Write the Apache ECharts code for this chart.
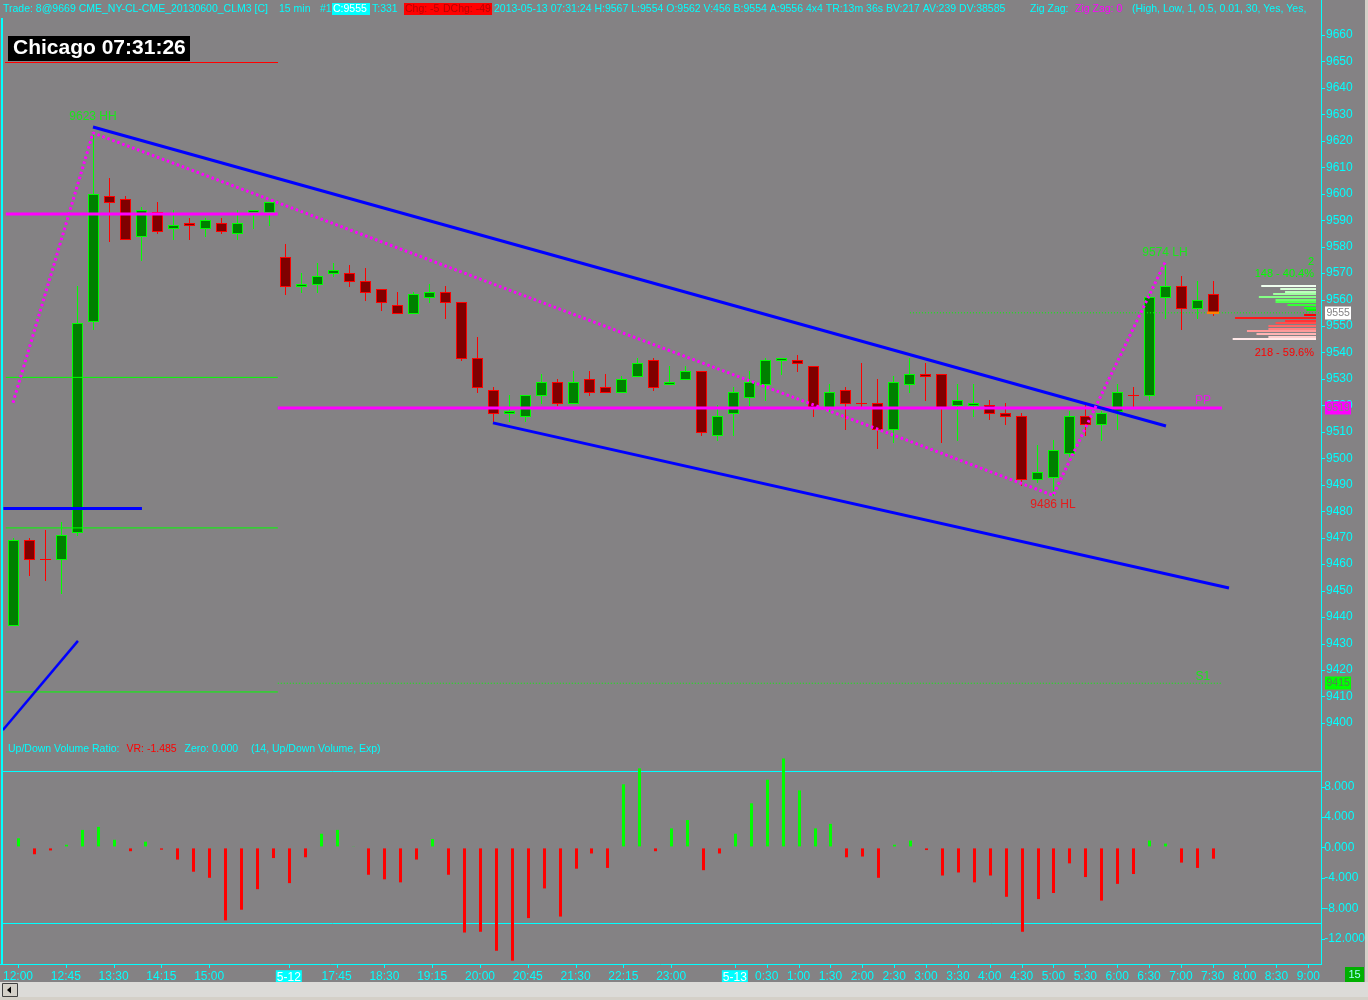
<!DOCTYPE html>
<html><head><meta charset="utf-8">
<script src="https://cdn.jsdelivr.net/npm/echarts@6/dist/echarts.min.js"></script>
<style>html,body{margin:0;padding:0;background:#848284;}#c{width:1368px;height:1000px;}</style>
</head><body><div id="c"></div>
<script>
// ---------------- DATA ----------------
// 15-minute bars, index 0 = Fri 12:00, 17 = Sun 17:00 (5-12), 45 = Mon 0:00 (5-13)
const opens  = [9437,9469,9462,9462,9472,9552,9599,9598,9584,9593,9587,9589,9587,9589,9585,9593,9593,
  9576,9565,9566,9570,9570,9567,9564,9558,9555,9561,9563,9559,9538,9526,9517,9516,9524,9529,9521,9530,9527,9525,9531,9537,9528,9530,
  9533,9509,9517,9523,9528,9537,9537,9535,9519,9526,9521,9521,9511,9528,9532,9532,9520,9520,9520,9517,9516,9492,9493,9502,9516,9513,9518,9524,9524,9561,9565,9557,9562];
const highs  = [9470,9470,9473,9476,9565,9623,9606,9599,9595,9597,9594,9591,9591,9591,9594,9594,9597,
  9581,9570,9574,9574,9573,9572,9564,9563,9563,9566,9565,9559,9546,9527,9524,9524,9532,9530,9533,9533,9532,9531,9538,9538,9535,9535,
  9533,9520,9527,9533,9538,9538,9539,9535,9528,9527,9536,9530,9531,9538,9536,9532,9528,9528,9522,9521,9517,9505,9507,9518,9520,9518,9528,9527,9562,9574,9569,9567,9567];
const lows   = [9437,9456,9454,9449,9471,9549,9582,9583,9575,9585,9583,9583,9584,9585,9583,9587,9588,
  9562,9563,9563,9569,9565,9560,9556,9555,9555,9559,9553,9537,9525,9514,9514,9514,9521,9520,9521,9524,9525,9525,9531,9526,9528,9530,
  9509,9507,9509,9520,9522,9532,9533,9516,9518,9511,9519,9504,9506,9525,9522,9506,9507,9516,9515,9513,9490,9491,9486,9501,9509,9507,9511,9519,9522,9553,9549,9553,9554];
const closes = [9469,9462,9462,9471,9551,9600,9597,9583,9594,9586,9588,9588,9590,9586,9589,9594,9597,
  9565,9566,9569,9571,9567,9563,9559,9555,9562,9563,9559,9538,9527,9517,9518,9524,9529,9521,9529,9525,9525,9530,9536,9527,9529,9533,
  9510,9516,9525,9529,9537,9538,9536,9519,9525,9521,9521,9511,9529,9532,9531,9519,9522,9521,9517,9516,9492,9495,9503,9516,9513,9517,9525,9524,9561,9565,9557,9560,9555];
// Up/Down Volume Ratio histogram
const vrValues = [1.2,-0.9,-0.4,0.35,2.3,2.7,1.0,-0.5,0.75,-0.3,-1.6,-3.2,-4.0,-9.6,-8.2,-5.5,-1.4,
  -4.7,-1.3,1.8,2.3,0.15,-3.6,-4.2,-4.6,-1.6,1.1,-3.6,-11.2,-11.1,-13.6,-14.9,-9.3,-5.4,-9.1,-2.8,-0.8,-2.7,8.3,10.4,-0.5,2.5,3.6,
  -3.0,-0.8,1.8,5.8,8.9,11.7,7.5,2.5,3.1,-1.3,-1.2,-4.0,0.35,0.9,-0.35,-3.7,-3.3,-4.6,-3.7,-6.5,-11.1,-6.8,-6.0,-2.1,-3.9,-7.0,-4.8,-3.5,0.9,0.5,-2.0,-2.7,-1.485];
const vrLevels = [10, -10];
// time axis
const tickIndex  = [0,3,6,9,12,17,20,23,26,29,32,35,38,41,45,47,49,51,53,55,57,59,61,63,65,67,69,71,73,75,77,79,81];
const tickLabels = ['12:00','12:45','13:30','14:15','15:00','5-12','17:45','18:30','19:15','20:00','20:45','21:30','22:15','23:00',
  '5-13','0:30','1:00','1:30','2:00','2:30','3:00','3:30','4:00','4:30','5:00','5:30','6:00','6:30','7:00','7:30','8:00','8:30','9:00'];
const priceTicks = [9400,9410,9420,9430,9440,9450,9460,9470,9480,9490,9500,9510,9520,9530,9540,9550,9560,9570,9580,9590,9600,9610,9620,9630,9640,9650,9660];
const vrTicks = [-12,-8,-4,0,4,8];
// zig zag pivots
const zigzagIndex = [0, 5, 65, 72];
const zigzagPrice = [9521, 9623, 9486, 9574];
const pivotIndex = [5, 72, 65];
const pivotPrice = [9623, 9574, 9486];
const pivotTags  = ['HH', 'LH', 'HL'];
// drawn trend lines [index, price]
const upperTrend = [[5, 9625.2], [72.06, 9512.2]];
const lowerTrend = [[30, 9513.4], [76, 9451.0]];
const leftTrend  = [[-0.63, 9397.3], [4.06, 9431.0]];
const blueLevel  = [[-0.6, 9481], [8.06, 9481]];
// pivot levels
const fridayMagenta = 9592.3;
const fridayGreen = [9530.6, 9473.7, 9411.7];
const ppLevel = 9519;
const s1Level = 9415;
const lastPrice = 9555;
// volume-at-price profile
const profilePrices  = [9565,9564,9563,9562,9561,9560,9559,9558,9557,9556, 9554,9553,9552,9551,9550,9549,9548,9547,9546,9545];
const profileVolumes = [23,15,13,18,24,17,17,12,5,4, 5,34,13,17,20,20,29,25,20,35];

// ---------------- CHART ----------------
const FF = '"Liberation Sans", Arial, sans-serif';
const font = (s, w) => (w || 'normal') + ' ' + s + 'px ' + FF;
const CY = '#00ffff', GR = '#00ff00', RD = '#ff0000', MG = '#ff00ff', BL = '#0000ff', BG = '#848284';
const chart = echarts.init(document.getElementById('c'), null, {renderer: 'canvas'});

function seg(pts, color, width, type, z) {
  return {type: 'line', xAxisIndex: 0, yAxisIndex: 0, data: pts, symbol: 'none', silent: true,
    z: z || 5, animation: false, lineStyle: {color: color, width: width, type: type || 'solid'}};
}

const candleData = opens.map((o, i) => [i, o, highs[i], lows[i], closes[i]]);
const series = [];

series.push({
  type: 'custom', xAxisIndex: 0, yAxisIndex: 0, z: 2, clip: true,
  data: candleData, encode: {x: 0, y: [1, 2, 3, 4]},
  renderItem: function (params, api) {
    const i = api.value(0), o = api.value(1), h = api.value(2), l = api.value(3), c = api.value(4);
    const pO = api.coord([i, o]), pC = api.coord([i, c]), pH = api.coord([i, h]), pL = api.coord([i, l]);
    const xi = Math.round(pO[0]);
    const up = c > o;
    const edge = up ? GR : RD, fill = up ? '#008000' : '#800000';
    const yH = Math.round(pH[1]), yL = Math.round(pL[1]);
    const ch = [{type: 'rect', shape: {x: xi, y: yH, width: 1, height: Math.max(yL - yH + 1, 1)}, style: {fill: edge, stroke: null}}];
    if (c === o) {
      const yy = Math.round(pO[1]);
      ch.push({type: 'rect', shape: {x: xi - 5, y: yy, width: 11, height: 1}, style: {fill: edge, stroke: null}});
    } else {
      const top = Math.round(Math.min(pO[1], pC[1])), bot = Math.round(Math.max(pO[1], pC[1]));
      ch.push({type: 'rect', shape: {x: xi - 5, y: top, width: 11, height: Math.max(bot - top + 1, 2)}, style: {fill: edge, stroke: null}});
      if (bot - top > 1) ch.push({type: 'rect', shape: {x: xi - 4, y: top + 1, width: 9, height: bot - top - 1}, style: {fill: fill, stroke: null}});
    }
    return {type: 'group', children: ch};
  }
});

// horizontal levels
series.push(seg([[-0.45, fridayMagenta], [16.55, fridayMagenta]], MG, 3, 'solid', 6));
fridayGreen.forEach(v => series.push(seg([[-0.45, v], [16.55, v]], GR, 1, 'solid', 4)));
series.push(seg([[16.55, ppLevel], [75.56, ppLevel]], MG, 3, 'solid', 6));
series.push(seg([[16.55, s1Level], [75.56, s1Level]], GR, 1, [1, 2], 4));
series.push(seg([[56.06, lastPrice], [81.75, lastPrice]], GR, 1, [1, 2], 4));
series.push(seg([[74.62, lastPrice], [75.38, lastPrice]], '#ff8000', 2.5, 'solid', 7));
// trend lines
series.push(seg(upperTrend, BL, 3, 'solid', 7));
series.push(seg(lowerTrend, BL, 3, 'solid', 7));
series.push(seg(leftTrend, BL, 2.5, 'solid', 7));
series.push(seg(blueLevel, BL, 3, 'solid', 7));
// zig zag
series.push(seg(zigzagIndex.map((x, i) => [x, zigzagPrice[i]]), MG, 3, [2.5, 2.8], 8));

// pivot labels
const pivotLabelCfg = {HH: {pos: 'top', d: 10, c: GR}, LH: {pos: 'top', d: 3.5, c: GR}, HL: {pos: 'bottom', d: 3, c: RD}};
series.push({
  type: 'scatter', xAxisIndex: 0, yAxisIndex: 0, symbolSize: 0, silent: true, z: 9,
  data: pivotIndex.map((x, i) => {
    const cfg = pivotLabelCfg[pivotTags[i]];
    return {name: pivotPrice[i] + ' ' + pivotTags[i], value: [x, pivotPrice[i]],
      label: {show: true, position: cfg.pos, distance: cfg.d, color: cfg.c, font: font(13), formatter: '{b}'}};
  })
});
// PP / S1 labels
series.push({
  type: 'scatter', xAxisIndex: 0, yAxisIndex: 0, symbolSize: 0, silent: true, z: 9,
  data: [
    {name: 'PP', value: [74.37, ppLevel], label: {show: true, position: 'top', distance: 1.5, color: MG, font: font(11), formatter: '{b}'}},
    {name: 'S1', value: [74.37, s1Level], label: {show: true, position: 'top', distance: 1, color: GR, font: font(11), formatter: '{b}'}}
  ]
});

// volume profile
const nUp = profilePrices.filter(p => p > lastPrice).length;
const nDn = profilePrices.length - nUp;
function mix(a, b, t) { return 'rgb(' + a.map((v, k) => Math.round(v + (b[k] - v) * t)).join(',') + ')'; }
series.push({
  type: 'custom', xAxisIndex: 2, yAxisIndex: 2, z: 6, silent: true,
  data: profilePrices.map((p, i) => [profileVolumes[i], p, i]),
  renderItem: function (params, api) {
    const v = api.value(0), p = api.value(1), i = api.value(2);
    const a = api.coord([0, p]), b = api.coord([v, p]);
    let col;
    if (p > lastPrice) col = mix([240, 255, 240], [0, 255, 0], i / (nUp - 1));
    else col = mix([255, 0, 0], [255, 232, 232], (i - nUp) / (nDn - 1));
    return {type: 'rect', shape: {x: b[0], y: Math.round(a[1]) - 1, width: a[0] - b[0], height: 2}, style: {fill: col}};
  }
});

// VR histogram
series.push({
  type: 'custom', xAxisIndex: 1, yAxisIndex: 1, z: 3, silent: true,
  data: vrValues.map((v, i) => [i, v]),
  renderItem: function (params, api) {
    const i = api.value(0), v = api.value(1);
    const z = api.coord([i, 0]), e = api.coord([i, v]);
    const x = Math.round(z[0]) - 1;
    if (v >= 0) return {type: 'rect', shape: {x: x, y: e[1], width: 3, height: z[1] - 1 - e[1]}, style: {fill: GR}};
    return {type: 'rect', shape: {x: x, y: z[1] + 1, width: 3, height: e[1] - z[1] - 1}, style: {fill: RD}};
  }
});

const option = {
  backgroundColor: BG,
  animation: false,
  grid: [
    {left: 5, right: 47, top: 19.1, height: 719.7},
    {left: 5, right: 47, top: 741, height: 224.2},
    {left: 1216, right: 52, top: 19.1, height: 719.7}
  ],
  xAxis: [
    {gridIndex: 0, type: 'value', min: -0.5, max: 81.75, show: false},
    {gridIndex: 1, type: 'value', min: -0.5, max: 81.75, position: 'bottom',
      axisLine: {show: false}, splitLine: {show: false}, axisTick: {show: false},
      axisLabel: {customValues: tickIndex, color: CY, font: font(11), margin: 5, hideOverlap: false,
        formatter: function (v) {
          const k = tickIndex.indexOf(Math.round(v));
          const s = k >= 0 ? tickLabels[k] : '';
          return s.indexOf('-') >= 0 ? '{d|' + s + '}' : s;
        },
        rich: {d: {backgroundColor: CY, color: '#ffffff', font: font(11), padding: [1, 1, 0, 1], lineHeight: 13}}}},
    {gridIndex: 2, type: 'value', min: 0, max: 42, inverse: true, show: false}
  ],
  yAxis: [
    {gridIndex: 0, type: 'value', position: 'right', min: 9394, max: 9666,
      axisLine: {show: false}, splitLine: {show: false}, axisTick: {show: false},
      axisLabel: {customValues: priceTicks, color: CY, font: font(10.5), margin: 5, formatter: v => String(v)}},
    {gridIndex: 1, type: 'value', position: 'right', min: -15.5, max: 14,
      axisLine: {show: false}, splitLine: {show: false}, axisTick: {show: false},
      axisLabel: {customValues: vrTicks, color: CY, font: font(10.5), margin: 4, formatter: v => v.toFixed(3)}},
    {gridIndex: 2, type: 'value', min: 9394, max: 9666, show: false}
  ],
  series: series
};
chart.setOption(option);

// ---------------- GRAPHICS (text, frame, ticks, axis boxes) ----------------
const g = [];
function txt(x, y, s, color, f, align) {
  g.push({type: 'text', x: x, y: y, z: 50, silent: true,
    style: {text: s, fill: color, font: f || font(10.5), align: align || 'left', verticalAlign: 'middle'}});
}
function box(x, y, w, h, fill, z) {
  g.push({type: 'rect', z: z || 49, silent: true, shape: {x: x, y: y, width: w, height: h}, style: {fill: fill}});
}
function ln(x1, y1, x2, y2, color, w, z) {
  g.push({type: 'line', z: z || 48, silent: true, shape: {x1: x1, y1: y1, x2: x2, y2: y2}, style: {stroke: color, lineWidth: w}});
}
// frame
ln(2, 18, 2, 965, CY, 2);
ln(1321.5, 0, 1321.5, 965, CY, 1);
ln(0, 964.5, 1321.5, 964.5, CY, 1);
box(1365, 0, 3, 1000, '#d4d0c8', 40);
box(0, 982, 1368, 18, '#dcdbd8', 40);
box(0, 997, 1368, 3, '#d4d0c8', 41);
g.push({type: 'rect', z: 45, silent: true, shape: {x: 2.5, y: 983.5, width: 15, height: 13}, style: {fill: '#d4d0c8', stroke: '#404040', lineWidth: 1}});
g.push({type: 'polygon', z: 46, silent: true, shape: {points: [[7, 990], [11, 986.5], [11, 993.5]]}, style: {fill: '#000'}});
box(1345, 967, 19, 15, '#00b000');
txt(1354.5, 974.5, '15', '#a0ffff', font(11), 'center');

// indicator +/-10 levels through the indicator scale
vrLevels.forEach(v => { const y = Math.round(chart.convertToPixel({yAxisIndex: 1}, v)) + 0.5; ln(3, y, 1321, y, CY, 1, 1); });

// axis ticks through the axes' own scales
priceTicks.forEach(v => { const y = Math.round(chart.convertToPixel({yAxisIndex: 0}, v)) + 0.5; ln(1322, y, 1325, y, CY, 1); });
vrTicks.forEach(v => { const y = Math.round(chart.convertToPixel({yAxisIndex: 1}, v)) + 0.5; ln(1322, y, 1325, y, CY, 1); });
tickIndex.forEach(v => { const x = Math.round(chart.convertToPixel({xAxisIndex: 1}, v)) + 0.5; ln(x, 965, x, 968, CY, 1); });

// header
const hy = 9;
txt(3, hy, 'Trade: 8@9669 CME_NY-CL-CME_20130600_CLM3 [C]', CY);
txt(279, hy, '15 min', CY);
txt(320, hy, '#1', CY);
box(332, 3, 38, 12, CY);
txt(333, hy, 'C:' + closes[closes.length - 1], '#ffffff');
txt(372, hy, 'T:331', CY);
box(404, 3, 38, 12, RD);
txt(405, hy, 'Chg: -5', '#b80000');
box(442, 3, 50, 12, RD);
txt(443, hy, 'DChg: -49', '#b80000');
txt(494, hy, '2013-05-13 07:31:24 H:' + highs[highs.length - 1] + ' L:' + lows[lows.length - 1] + ' O:' + opens[opens.length - 1] +
  ' V:456 B:9554 A:9556 4x4 TR:13m 36s BV:217 AV:239 DV:38585', CY);
txt(1030, hy, 'Zig Zag:', CY);
txt(1075, hy, 'Zig Zag: 0', MG);
txt(1132, hy, '(High, Low, 1, 0.5, 0.01, 30, Yes, Yes,', CY);

// clock box
box(8, 36, 182, 25, '#000000');
txt(13, 48.5, 'Chicago 07:31:26', '#ffffff', font(21, 'bold'));
ln(5, 62.5, 278, 62.5, RD, 1);

// indicator title
const iy = 749;
txt(8, iy, 'Up/Down Volume Ratio:', CY);
txt(126.5, iy, 'VR: ' + vrValues[vrValues.length - 1].toFixed(3), RD);
txt(184.5, iy, 'Zero: 0.000', CY);
txt(251, iy, '(14, Up/Down Volume, Exp)', CY);

// profile texts
const upVol = profileVolumes.filter((v, i) => profilePrices[i] > lastPrice).reduce((a, b) => a + b, 0);
const dnVol = profileVolumes.filter((v, i) => profilePrices[i] < lastPrice).reduce((a, b) => a + b, 0);
const tot = upVol + dnVol;
txt(1314, 262, '2', GR, font(11), 'right');
txt(1314, 274, upVol + ' - ' + (upVol / tot * 100).toFixed(1) + '%', GR, font(11), 'right');
txt(1314, 353, dnVol + ' - ' + (dnVol / tot * 100).toFixed(1) + '%', RD, font(11), 'right');

// price boxes on axis
function priceBox(v, bg, fg) {
  const y = chart.convertToPixel({yAxisIndex: 0}, v);
  box(1325, Math.round(y) - 6.5, 26, 13, bg);
  txt(1326.5, Math.round(y), String(v), fg);
}
priceBox(lastPrice, '#ffffff', '#848284');
priceBox(ppLevel, MG, '#848284');
priceBox(s1Level, GR, '#5a7a5a');

chart.setOption({graphic: g});
</script>
</body></html>
